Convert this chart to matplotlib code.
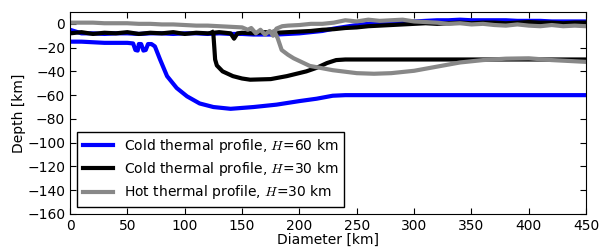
import matplotlib
matplotlib.use('Agg')
import matplotlib.pyplot as plt

# surface (upper) lines
blue_top_x = [0, 10, 20, 30, 40, 50, 60, 70, 80, 90, 100, 110, 120, 130, 140, 150, 160, 170, 180, 190,
              200, 210, 220, 230, 240, 250, 260, 270, 280, 290, 300, 310, 320, 330, 340, 350, 360, 370,
              380, 390, 400, 410, 420, 430, 440, 450]
blue_top_y = [-5, -8, -8, -8.5, -8, -8, -8.5, -8, -8, -8.5, -8, -8, -8.5, -8, -8.5, -8.5, -9, -9, -9, -8.5,
              -8, -7, -6, -4, -2.5, -1, 0, 0.5, 1, 1.5, 2, 2.5, 3, 3, 3.5, 3, 3, 3,
              3, 2.5, 2.5, 2.5, 2, 2, 2, 2]

black_top_x = [0, 10, 20, 30, 40, 50, 60, 70, 80, 90, 100, 110, 120, 130, 140, 143, 146, 150, 160, 170,
               180, 190, 200, 210, 220, 230, 240, 250, 260, 270, 280, 290, 300, 310, 320, 330, 340, 350,
               360, 370, 380, 390, 400, 410, 420, 430, 440, 450]
black_top_y = [-8, -7, -8.5, -7.5, -8, -7, -8.5, -7.5, -8, -7, -8.5, -7.5, -8, -7, -8, -12.5, -8, -7.5, -8, -7,
               -7.5, -7, -6.5, -6, -5, -4.5, -3.5, -3, -2, -1.5, -1, -0.5, 0, 0.5, 0, 0.5, 1, 0.5,
               1, 1, 0.5, 1, 1.5, 1, 1, 0.5, 1, 1]

gray_top_x = [0, 10, 20, 30, 40, 50, 60, 70, 80, 90, 100, 110, 120, 130, 140, 150, 155, 158, 162, 166,
              170, 174, 177, 180, 185, 190, 200, 210, 220, 230, 240, 250, 260, 270, 280, 290, 300, 310,
              320, 330, 340, 350, 360, 370, 380, 390, 400, 410, 420, 430, 440, 450]
gray_top_y = [1, 1, 1, 0.5, 0.5, 0.5, 0, 0, -0.5, -0.5, -1, -1.5, -1.5, -2, -2.5, -3, -5, -3.5, -8, -5,
              -9, -6, -10, -4, -2, -1.5, -1, 0, 0, 1, 3, 2, 3.5, 2.5, 3, 3.5, 2, 1.5,
              1, 0, 0.5, -0.5, 0, -1, -1.5, -0.5, -1.5, -2, -1, -2, -1.5, -2]

# base (lower) lines
blue_bot_x = [0, 10, 20, 30, 40, 50, 55, 57, 59, 60, 62, 64, 66, 68, 71, 74, 78.5, 84.6, 93, 102,
              113, 125, 140, 160, 180, 200, 215, 229, 240, 450]
blue_bot_y = [-15, -15, -15.5, -16, -16, -16, -16.5, -22, -22.5, -17, -17, -22.5, -22, -17, -17, -19, -30, -44, -54, -61,
              -67, -70, -71.5, -70, -68, -65, -63, -60.5, -60, -60]

black_bot_x = [124, 125, 125.8, 126.5, 128, 133, 142, 150, 157, 175, 189, 206, 215, 224, 232, 240, 450]
black_bot_y = [-7, -9, -20, -30, -35, -40, -44, -46, -47, -46.5, -44, -40, -37, -33, -30.5, -30, -30]

gray_bot_x = [178, 181, 184.5, 190, 195, 209, 229, 250, 265, 280, 300, 320, 340, 360, 380, 400, 420, 450]
gray_bot_y = [-6, -12, -22, -26, -29, -35.4, -39, -41.5, -42, -41.5, -39.5, -36, -32.5, -30.5, -29.3, -29, -30.5, -32]

labels = [r'Cold thermal profile, $H$=60 km',
          r'Cold thermal profile, $H$=30 km',
          r'Hot thermal profile, $H$=30 km']

plt.rcParams['font.family'] = ['DejaVu Sans']
plt.rcParams['mathtext.fontset'] = 'cm'
plt.rcParams['font.size'] = 10

fig = plt.figure(figsize=(6, 2.49), dpi=100)
ax = fig.add_axes([0.1167, 0.1406, 0.977 - 0.1167, 0.952 - 0.1406])

lw = 3
ax.plot(blue_top_x, blue_top_y, color='#0000ff', lw=lw, label=labels[0])
ax.plot(blue_bot_x, blue_bot_y, color='#0000ff', lw=lw)
ax.plot(black_top_x, black_top_y, color='black', lw=lw, label=labels[1])
ax.plot(black_bot_x, black_bot_y, color='black', lw=lw)
ax.plot(gray_top_x, gray_top_y, color='#888888', lw=lw, label=labels[2])
ax.plot(gray_bot_x, gray_bot_y, color='#888888', lw=lw)

ax.set_xlim(0, 450)
ax.set_ylim(-160, 10)
ax.set_xticks(range(0, 451, 50))
ax.set_yticks(range(-160, 1, 20))
ax.tick_params(direction='in', top=True, right=True, length=4)
ax.set_xlabel('Diameter [km]', labelpad=0)
ax.set_ylabel('Depth [km]', labelpad=1)

leg = ax.legend(loc='lower left', fancybox=False, framealpha=1, edgecolor='black',
                handlelength=2.2, borderaxespad=0.5, labelspacing=0.37)
leg.get_frame().set_linewidth(1)

fig.savefig('out.png', dpi=100)
